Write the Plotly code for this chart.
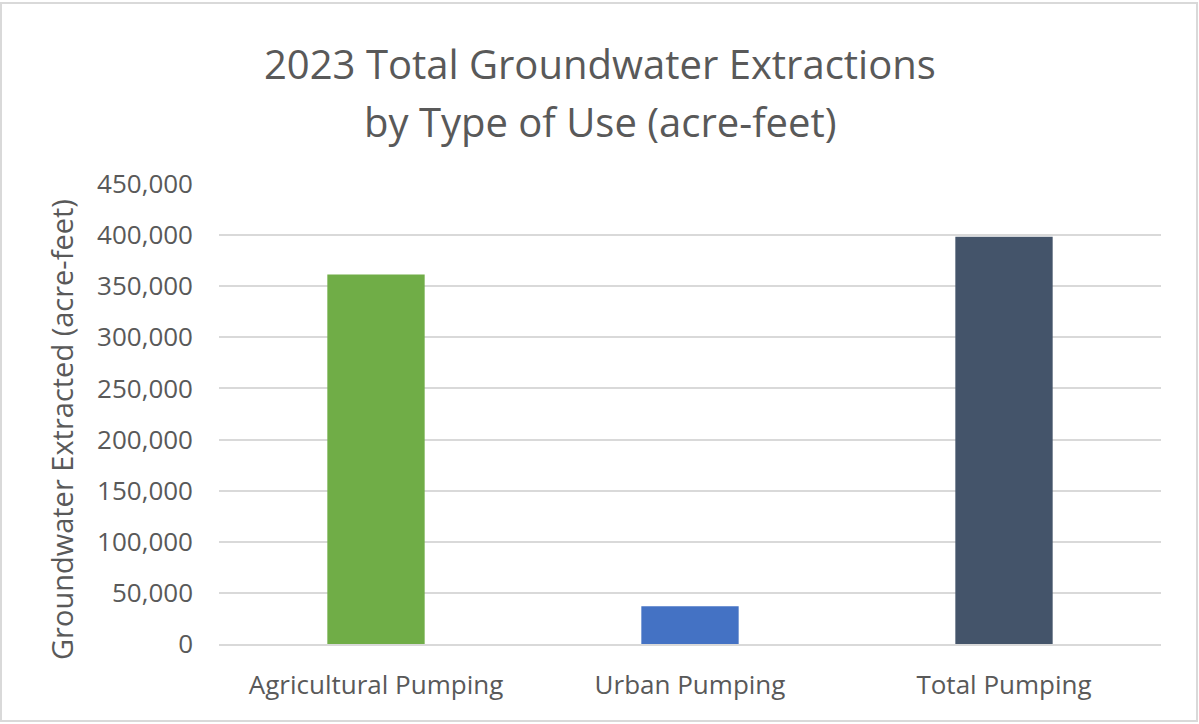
import plotly.graph_objects as go

categories = ["Agricultural Pumping", "Urban Pumping", "Total Pumping"]
extractions = [361500, 37000, 398500]
bar_colors = ["#70AD47", "#4472C4", "#44546A"]
tick_values = [0, 50000, 100000, 150000, 200000, 250000, 300000, 350000, 400000, 450000]
tick_labels = ["0", "50,000", "100,000", "150,000", "200,000", "250,000",
               "300,000", "350,000", "400,000", "450,000"]
title_lines = ["2023 Total Groundwater Extractions", "by Type of Use (acre-feet)"]
y_title = "Groundwater Extracted (acre-feet)"

text_gray = "#595959"
font_family = "Open Sans"

# plot area in pixels
W, H = 1199, 724
L, R, T, B = 219, 38, 184, 80
PW, PH = W - L - R, H - T - B


def px_x(x):
    return (x - L) / PW


def px_y(y):
    return (H - B - y) / PH


fig = go.Figure()
fig.add_trace(go.Bar(
    x=categories,
    y=extractions,
    marker=dict(color=bar_colors, line=dict(width=0)),
    hoverinfo="x+y",
))

annotations = []
for line, ypix in zip(title_lines, [63, 122]):
    annotations.append(dict(
        text=line, xref="paper", yref="paper",
        x=px_x(600), y=px_y(ypix),
        xanchor="center", yanchor="middle", showarrow=False,
        font=dict(family=font_family, size=40, color=text_gray),
    ))
annotations.append(dict(
    text=y_title, xref="paper", yref="paper",
    x=px_x(61), y=px_y(430),
    xanchor="center", yanchor="middle", textangle=-90, showarrow=False,
    font=dict(family=font_family, size=29, color=text_gray),
))

fig.update_layout(
    width=W,
    height=H,
    paper_bgcolor="white",
    plot_bgcolor="white",
    margin=dict(l=L, r=R, t=T, b=B),
    bargap=0.69,
    showlegend=False,
    font=dict(family=font_family, color=text_gray, size=26),
    xaxis=dict(
        showgrid=False,
        showline=True,
        linecolor="#d9d9d9",
        linewidth=2,
        ticks="",
        ticklabelstandoff=17,
        tickfont=dict(size=26, color=text_gray),
    ),
    yaxis=dict(
        range=[0, 450000],
        tickvals=tick_values,
        ticktext=tick_labels,
        showgrid=True,
        gridcolor="#d9d9d9",
        gridwidth=2,
        zeroline=False,
        showline=False,
        ticks="",
        ticklabelstandoff=25,
        tickfont=dict(size=26, color=text_gray),
    ),
    annotations=annotations,
    shapes=[dict(
        type="rect",
        xref="paper", yref="paper",
        x0=px_x(1), x1=px_x(1197),
        y0=px_y(721), y1=px_y(3),
        line=dict(color="#d9d9d9", width=2),
        fillcolor="rgba(0,0,0,0)",
        layer="below",
    )],
)

fig.write_html("out.html")
